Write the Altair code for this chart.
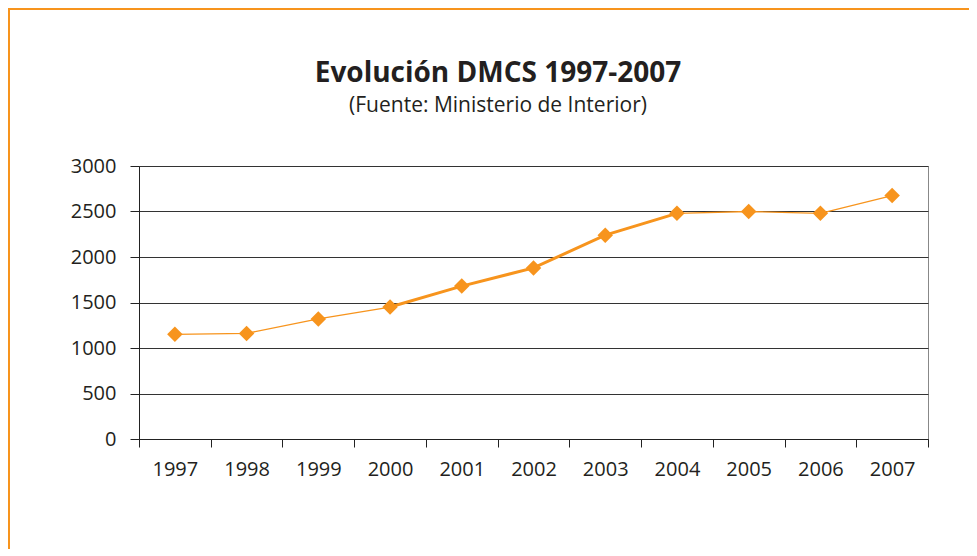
import altair as alt
import pandas as pd

years = ["1997", "1998", "1999", "2000", "2001", "2002", "2003", "2004", "2005", "2006", "2007"]
values = [1150, 1160, 1320, 1450, 1680, 1880, 2240, 2480, 2500, 2480, 2675]
y_ticks = [0, 500, 1000, 1500, 2000, 2500, 3000]
title_text = "Evolución DMCS 1997-2007"
subtitle_text = "(Fuente: Ministerio de Interior)"

df = pd.DataFrame({"year": years, "value": values})
ORANGE = "#F7941D"
TEXT = "#231F20"
FONT = "Open Sans"

W, H = 789, 273

x_enc = alt.X("year:N", sort=years, title=None,
              scale=alt.Scale(paddingInner=0, paddingOuter=0),
              axis=alt.Axis(labelAngle=0, labelFontSize=20, labelFont=FONT, labelColor=TEXT,
                            tickBand="extent", tickSize=8, tickColor="#222", domainColor="#222",
                            labelPadding=12, grid=False))
y_enc = alt.Y("value:Q", title=None,
              scale=alt.Scale(domain=[0, 3000], nice=False),
              axis=alt.Axis(values=y_ticks, format="d", labelFontSize=20, labelFont=FONT, labelColor=TEXT,
                            tickSize=9, tickColor="#222", domainColor="#222", labelPadding=14,
                            gridColor="#333", gridWidth=1))

base = alt.Chart(df)
line_thin = base.mark_line(color=ORANGE, strokeWidth=1.3).encode(x=x_enc, y=y_enc)
line_thick = base.transform_filter(
    (alt.datum.year >= "2000") & (alt.datum.year <= "2004")
).mark_line(color=ORANGE, strokeWidth=3).encode(x=alt.X("year:N", sort=years), y="value:Q")
points = base.mark_point(shape="diamond", filled=True, color=ORANGE, opacity=1, size=240).encode(
    x=alt.X("year:N", sort=years), y="value:Q")

title = alt.Chart(pd.DataFrame({"t": [title_text]})).mark_text(
    font=FONT, fontSize=28, fontWeight="bold", color=TEXT, align="center", baseline="alphabetic"
).encode(text="t:N", x=alt.value(359), y=alt.value(-84))
subtitle = alt.Chart(pd.DataFrame({"t": [subtitle_text]})).mark_text(
    font=FONT, fontSize=21, color=TEXT, align="center", baseline="alphabetic"
).encode(text="t:N", x=alt.value(359), y=alt.value(-54))
frame = alt.Chart(pd.DataFrame({"a": [0]})).mark_rect(
    fill=None, stroke=ORANGE, strokeWidth=2, clip=False
).encode(x=alt.value(-130), x2=alt.value(900), y=alt.value(-157), y2=alt.value(500))

chart = alt.layer(frame, line_thin, line_thick, points, title, subtitle).properties(
    width=W, height=H,
    autosize=alt.AutoSizeParams(type="none"),
    padding={"left": 131, "top": 158, "right": 41, "bottom": 110},
    background="white",
).configure_view(stroke="#888", strokeWidth=1)

chart.save("out.html", embed_options={"renderer": "svg", "actions": False})
